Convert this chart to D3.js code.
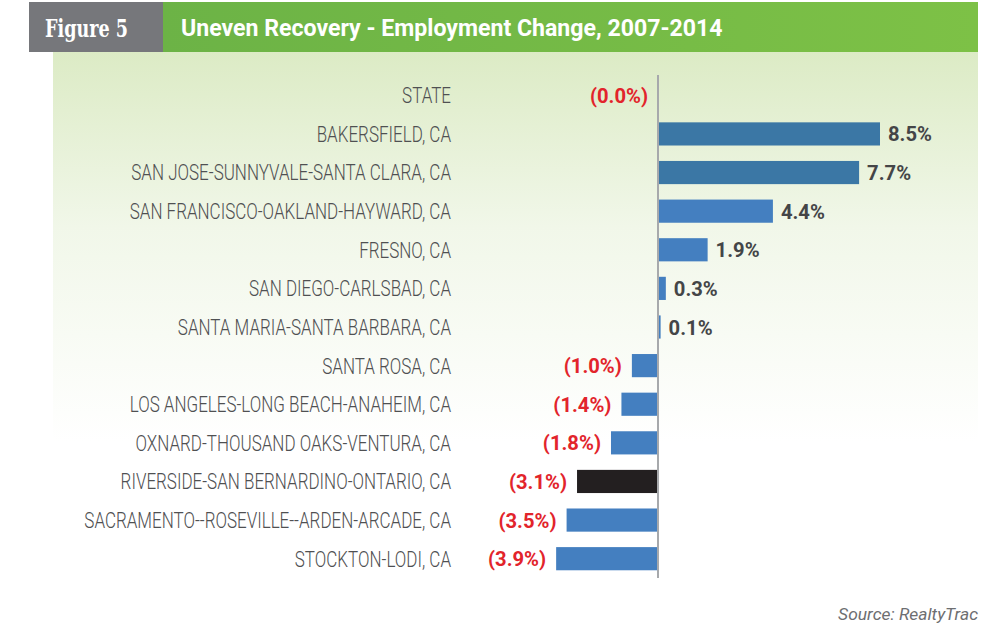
<!DOCTYPE html>
<html>
<head>
<meta charset="utf-8">
<script src="https://cdn.jsdelivr.net/npm/d3@7"></script>
<style>
  body { margin: 0; background: #fff; }
  svg { display: block; }
</style>
</head>
<body>
<svg id="chart" width="1003" height="623"></svg>
<script>
// data
var areas = ["STATE", "BAKERSFIELD, CA", "SAN JOSE-SUNNYVALE-SANTA CLARA, CA",
  "SAN FRANCISCO-OAKLAND-HAYWARD, CA", "FRESNO, CA", "SAN DIEGO-CARLSBAD, CA",
  "SANTA MARIA-SANTA BARBARA, CA", "SANTA ROSA, CA", "LOS ANGELES-LONG BEACH-ANAHEIM, CA",
  "OXNARD-THOUSAND OAKS-VENTURA, CA", "RIVERSIDE-SAN BERNARDINO-ONTARIO, CA",
  "SACRAMENTO--ROSEVILLE--ARDEN-ARCADE, CA", "STOCKTON-LODI, CA"]
var change = [-0.0, 8.5, 7.7, 4.4, 1.9, 0.3, 0.1, -1.0, -1.4, -1.8, -3.1, -3.5, -3.9]
var highlight = "RIVERSIDE-SAN BERNARDINO-ONTARIO, CA"
var figureLabel = "Figure 5"
var title = "Uneven Recovery - Employment Change, 2007-2014"
var source = "Source: RealtyTrac"

var svg = d3.select("#chart")

// squeeze a text horizontally (no condensed fonts on the box)
function squeeze(sel, sx){
  sel.each(function(){
    var t = d3.select(this)
    var px = +t.attr("data-x"), py = +t.attr("data-y")
    t.attr("transform", "translate(" + px + "," + py + ") scale(" + sx + ",1)")
  })
}

// background panel with fading green
var defs = svg.append("defs")
var grad = defs.append("linearGradient").attr("id", "panelFade")
  .attr("x1", 0).attr("y1", 0).attr("x2", 0).attr("y2", 1)
grad.append("stop").attr("offset", "0%").attr("stop-color", "#dcebc5")
grad.append("stop").attr("offset", "45%").attr("stop-color", "#f1f7e9")
grad.append("stop").attr("offset", "100%").attr("stop-color", "#ffffff")

var hgrad = defs.append("linearGradient").attr("id", "headFade")
  .attr("x1", 0).attr("y1", 0).attr("x2", 1).attr("y2", 0)
hgrad.append("stop").attr("offset", "0%").attr("stop-color", "#6cb346")
hgrad.append("stop").attr("offset", "100%").attr("stop-color", "#7dc146")

svg.append("rect").attr("x", 53).attr("y", 52).attr("width", 925).attr("height", 390)
  .attr("fill", "url(#panelFade)")

// header
svg.append("rect").attr("x", 29).attr("y", 2).attr("width", 134).attr("height", 50).attr("fill", "#76777b")
svg.append("rect").attr("x", 163).attr("y", 2).attr("width", 815).attr("height", 50).attr("fill", "url(#headFade)")

var figText = svg.append("text").attr("data-x", 45).attr("data-y", 37)
  .attr("font-family", "'DejaVu Serif', serif")
  .attr("font-weight", "bold").attr("font-size", 25).attr("fill", "#fff")
  .text(figureLabel)
squeeze(figText, 83 / figText.node().getComputedTextLength())

var titleText = svg.append("text").attr("data-x", 181).attr("data-y", 36)
  .attr("font-family", "Roboto, sans-serif")
  .attr("font-weight", "bold").attr("font-size", 24).attr("fill", "#fff")
  .text(title)
squeeze(titleText, 542 / titleText.node().getComputedTextLength())

// scales
var x = d3.scaleLinear().domain([0, 8.5]).range([658, 880])
var y = d3.scaleBand().domain(areas).range([76, 578]).paddingInner(0.4).paddingOuter(0.2)

var rows = areas.map(function(a, i){ return {area: a, value: change[i]} })

function barColor(d, i){
  if (d.area == highlight) return "#231f20"
  if (i < 3) return "#3b77a5"
  return "#447fc0"
}

svg.append("g").selectAll("rect")
  .data(rows)
  .enter()
  .append("rect")
  .attr("x", function(d){ return Math.min(x(0), x(d.value)) })
  .attr("y", function(d){ return y(d.area) })
  .attr("width", function(d){ return Math.abs(x(d.value) - x(0)) })
  .attr("height", y.bandwidth())
  .attr("fill", barColor)

// category labels
var catLabels = svg.append("g").selectAll("text")
  .data(rows)
  .enter()
  .append("text")
  .attr("data-x", 451)
  .attr("data-y", function(d){ return y(d.area) + y.bandwidth()/2 })
  .attr("dy", "0.36em")
  .attr("text-anchor", "end")
  .attr("font-family", "Roboto, sans-serif")
  .attr("font-weight", 300)
  .attr("font-size", 22)
  .attr("fill", "#4f5052")
  .text(function(d){ return d.area })
var refW = catLabels.filter(function(d){ return d.area == areas[2] }).node().getComputedTextLength()
squeeze(catLabels, 320 / refW)

// value labels
var valLabels = svg.append("g").selectAll("text")
  .data(rows)
  .enter()
  .append("text")
  .attr("data-x", function(d){
    if (d.value > 0) return x(d.value) + 8
    return Math.min(x(d.value), x(0)) - 10
  })
  .attr("data-y", function(d){ return y(d.area) + y.bandwidth()/2 })
  .attr("dy", "0.36em")
  .attr("text-anchor", function(d){ return d.value > 0 ? "start" : "end" })
  .attr("font-family", "Roboto, sans-serif")
  .attr("font-weight", "bold")
  .attr("font-size", 21)
  .attr("fill", function(d){ return d.value > 0 ? "#444547" : "#e2242b" })
  .text(function(d){
    var s = Math.abs(d.value).toFixed(1) + "%"
    return d.value > 0 ? s : "(" + s + ")"
  })
var valW = valLabels.filter(function(d){ return d.value == 8.5 }).node().getComputedTextLength()
squeeze(valLabels, 44 / valW)

// zero axis
svg.append("line").attr("x1", x(0)).attr("x2", x(0)).attr("y1", 75).attr("y2", 578)
  .attr("stroke", "#a7a9ac").attr("stroke-width", 2)

var srcText = svg.append("text").attr("data-x", 978).attr("data-y", 620).attr("text-anchor", "end")
  .attr("font-family", "Roboto, sans-serif")
  .attr("font-style", "italic").attr("font-size", 17).attr("fill", "#6d6e71")
  .text(source)
squeeze(srcText, 140 / srcText.node().getComputedTextLength())
</script>
</body>
</html>
